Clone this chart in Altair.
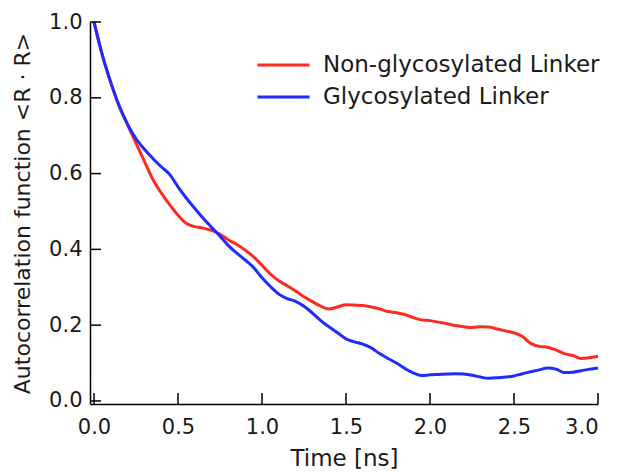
import altair as alt
import pandas as pd

time_ns = [0.00, 0.05, 0.10, 0.15, 0.20, 0.25, 0.30, 0.35, 0.40, 0.45, 0.50, 0.55,
           0.60, 0.65, 0.70, 0.75, 0.80, 0.85, 0.90, 0.95, 1.00, 1.05, 1.10, 1.15,
           1.20, 1.25, 1.30, 1.35, 1.40, 1.45, 1.50, 1.55, 1.60, 1.65, 1.70, 1.75,
           1.80, 1.85, 1.90, 1.95, 2.00, 2.05, 2.10, 2.15, 2.20, 2.25, 2.30, 2.35,
           2.40, 2.45, 2.50, 2.55, 2.60, 2.65, 2.70, 2.75, 2.80, 2.85, 2.90, 2.95, 3.00]

non_glycosylated = [1.000, 0.912, 0.840, 0.778, 0.728, 0.680, 0.632, 0.585, 0.549, 0.518, 0.490, 0.468,
                    0.460, 0.456, 0.450, 0.440, 0.425, 0.413, 0.398, 0.380, 0.358, 0.335, 0.317, 0.304,
                    0.290, 0.275, 0.262, 0.250, 0.243, 0.248, 0.254, 0.253, 0.252, 0.248, 0.243, 0.236,
                    0.233, 0.228, 0.220, 0.214, 0.212, 0.208, 0.204, 0.199, 0.196, 0.194, 0.196, 0.195,
                    0.190, 0.185, 0.180, 0.170, 0.152, 0.144, 0.142, 0.135, 0.125, 0.120, 0.112, 0.114, 0.118]

glycosylated = [1.000, 0.912, 0.840, 0.778, 0.730, 0.692, 0.664, 0.640, 0.618, 0.598, 0.565, 0.535,
                0.508, 0.482, 0.458, 0.435, 0.410, 0.390, 0.372, 0.352, 0.325, 0.302, 0.282, 0.270,
                0.263, 0.250, 0.232, 0.212, 0.195, 0.180, 0.164, 0.156, 0.150, 0.140, 0.125, 0.112,
                0.100, 0.086, 0.074, 0.067, 0.069, 0.070, 0.071, 0.072, 0.071, 0.068, 0.063, 0.060,
                0.061, 0.063, 0.066, 0.072, 0.077, 0.082, 0.087, 0.084, 0.075, 0.076, 0.080, 0.084, 0.087]

series_names = ["Non-glycosylated Linker", "Glycosylated Linker"]
series_colors = ["#ff2a1f", "#1e2cff"]

x_ticks = [0.0, 0.5, 1.0, 1.5, 2.0, 2.5, 3.0]
y_ticks = [0.0, 0.2, 0.4, 0.6, 0.8, 1.0]

rows = []
for t, a, b in zip(time_ns, non_glycosylated, glycosylated):
    rows.append({"t": t, "v": a, "series": series_names[0]})
    rows.append({"t": t, "v": b, "series": series_names[1]})
df = pd.DataFrame(rows)

W, H = 508, 382
FONT = "DejaVu Sans"
xscale = alt.Scale(domain=[-0.024, 3.0], nice=False, zero=False)
yscale = alt.Scale(domain=[-0.008, 1.0], nice=False, zero=False)
xaxis = alt.Axis(values=x_ticks, format=".1f", ticks=False, labelPadding=12,
                 titlePadding=10, grid=False)
yaxis = alt.Axis(values=y_ticks, format=".1f", ticks=False, labelPadding=8,
                 titlePadding=14, grid=False)
XTITLE = "Time [ns]"
YTITLE = "Autocorrelation function <R · R>"

lines = alt.Chart(df).mark_line(strokeWidth=3, interpolate="monotone").encode(
    x=alt.X("t:Q", scale=xscale, title=XTITLE, axis=xaxis),
    y=alt.Y("v:Q", scale=yscale, title=YTITLE, axis=yaxis),
    color=alt.Color("series:N", sort=series_names,
                    scale=alt.Scale(domain=series_names, range=series_colors),
                    legend=alt.Legend(title=None, orient="none", legendX=166, legendY=27,
                                      symbolType="stroke", symbolSize=2704,
                                      symbolStrokeWidth=3, clipHeight=32, rowPadding=0,
                                      labelOffset=12, labelFontSize=23, labelFont=FONT,
                                      labelColor="#1a1a1a", labelLimit=0, padding=0)),
    order=alt.Order("t:Q"),
)

xt = alt.Chart(pd.DataFrame({"t": x_ticks})).mark_rule(color="black", strokeWidth=1.5).encode(
    x=alt.X("t:Q", scale=xscale, title=XTITLE, axis=xaxis),
    y=alt.value(H), y2=alt.value(H - 11),
)
yt = alt.Chart(pd.DataFrame({"v": y_ticks})).mark_rule(color="black", strokeWidth=1.5).encode(
    y=alt.Y("v:Q", scale=yscale, title=YTITLE, axis=yaxis),
    x=alt.value(0), x2=alt.value(11),
)

chart = alt.layer(lines, xt, yt).properties(
    width=W, height=H,
    autosize=alt.AutoSizeParams(type="none"),
    padding={"left": 90, "top": 22, "right": 20, "bottom": 68},
).configure_view(stroke=None).configure_axis(
    domainColor="black", domainWidth=1.5, labelFont=FONT, labelFontSize=21,
    labelColor="#1a1a1a", titleFont=FONT, titleFontSize=23, titleFontWeight="normal",
    titleColor="#1a1a1a",
).configure_axisY(titleFontSize=22)

chart.save("out.html", embed_options={"renderer": "svg", "actions": False})
